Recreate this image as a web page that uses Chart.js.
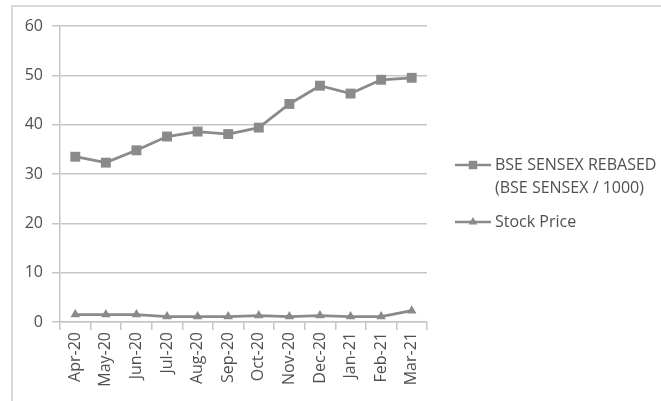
<!DOCTYPE html>
<html>
<head>
<meta charset="utf-8">
<script src="https://cdn.jsdelivr.net/npm/chart.js@4"></script>
<style>
  html, body { margin: 0; padding: 0; background: #ffffff; }
  #wrap { position: relative; width: 661px; height: 401px; }
</style>
</head>
<body>
<div id="wrap"><canvas id="c" width="661" height="401"></canvas></div>
<script>
const categories = ['Apr-20','May-20','Jun-20','Jul-20','Aug-20','Sep-20','Oct-20','Nov-20','Dec-20','Jan-21','Feb-21','Mar-21'];
const sensexRebased = [33.5, 32.3, 34.8, 37.6, 38.6, 38.1, 39.4, 44.2, 47.9, 46.3, 49.1, 49.5];
const stockPrice = [1.5, 1.5, 1.5, 1.1, 1.1, 1.1, 1.3, 1.1, 1.3, 1.1, 1.1, 2.3];
const yTicks = [0, 10, 20, 30, 40, 50, 60];
const seriesNames = [['BSE SENSEX REBASED', '(BSE SENSEX / 1000)'], ['Stock Price']];

const FONT = '"Open Sans", Lato, "DejaVu Sans", sans-serif';
const TEXT = '#505050';
const SERIES = '#8a8a8a';
const GRID = '#c6c6c6';

const frameAndLegend = {
  id: 'frameAndLegend',
  beforeDraw(chart) {
    const ctx = chart.ctx;
    ctx.save();
    ctx.strokeStyle = '#d9d9d9';
    ctx.lineWidth = 2;
    ctx.strokeRect(12, 6, 700, 500);
    ctx.restore();
  },
  afterDraw(chart) {
    const ctx = chart.ctx;
    const items = [
      { y: 165, style: 'rect', radius: 6, lines: seriesNames[0] },
      { y: 222, style: 'triangle', radius: 5, lines: seriesNames[1] }
    ];
    ctx.save();
    items.forEach(it => {
      ctx.strokeStyle = SERIES;
      ctx.lineWidth = 2.5;
      ctx.beginPath();
      ctx.moveTo(455, it.y);
      ctx.lineTo(491, it.y);
      ctx.stroke();
      ctx.fillStyle = SERIES;
      Chart.helpers.drawPoint(ctx, { pointStyle: it.style, radius: it.radius, rotation: 0, borderWidth: 0 }, 473, it.y);
      ctx.fillStyle = TEXT;
      ctx.font = '16px ' + FONT;
      ctx.textBaseline = 'middle';
      ctx.textAlign = 'left';
      it.lines.forEach((t, i) => ctx.fillText(t, 495, it.y + i * 23));
    });
    ctx.restore();
  }
};

new Chart(document.getElementById('c'), {
  type: 'line',
  data: {
    labels: categories,
    datasets: [
      {
        label: seriesNames[0].join(' '),
        data: sensexRebased,
        borderColor: SERIES,
        backgroundColor: SERIES,
        borderWidth: 2.8,
        pointStyle: 'rect',
        pointRadius: 7,
        pointBorderWidth: 0,
        tension: 0
      },
      {
        label: seriesNames[1][0],
        data: stockPrice,
        borderColor: SERIES,
        backgroundColor: SERIES,
        borderWidth: 2.8,
        pointStyle: 'triangle',
        pointRadius: 5.5,
        pointBorderWidth: 0,
        tension: 0
      }
    ]
  },
  options: {
    responsive: false,
    animation: false,
    devicePixelRatio: 1,
    layout: { padding: { left: 0, top: 26, right: 234, bottom: 0 } },
    plugins: { legend: { display: false }, tooltip: { enabled: false } },
    scales: {
      x: {
        type: 'category',
        offset: true,
        afterFit(s) { s.height = 79; },
        grid: { drawOnChartArea: false, drawTicks: true, offset: true, tickLength: 8, color: GRID, lineWidth: 1.5 },
        border: { display: true, color: GRID, width: 1.5 },
        ticks: { minRotation: 90, maxRotation: 90, autoSkip: false, padding: 2, color: TEXT, font: { family: FONT, size: 16 } }
      },
      y: {
        min: 0, max: 60,
        afterFit(s) { s.width = 60; },
        afterBuildTicks(s) { s.ticks = yTicks.map(v => ({ value: v })); },
        grid: { color: GRID, lineWidth: 1.5, tickLength: 8 },
        border: { display: true, color: GRID, width: 1.5 },
        ticks: { padding: 9, color: TEXT, font: { family: FONT, size: 16 } }
      }
    }
  },
  plugins: [frameAndLegend]
});
</script>
</body>
</html>
